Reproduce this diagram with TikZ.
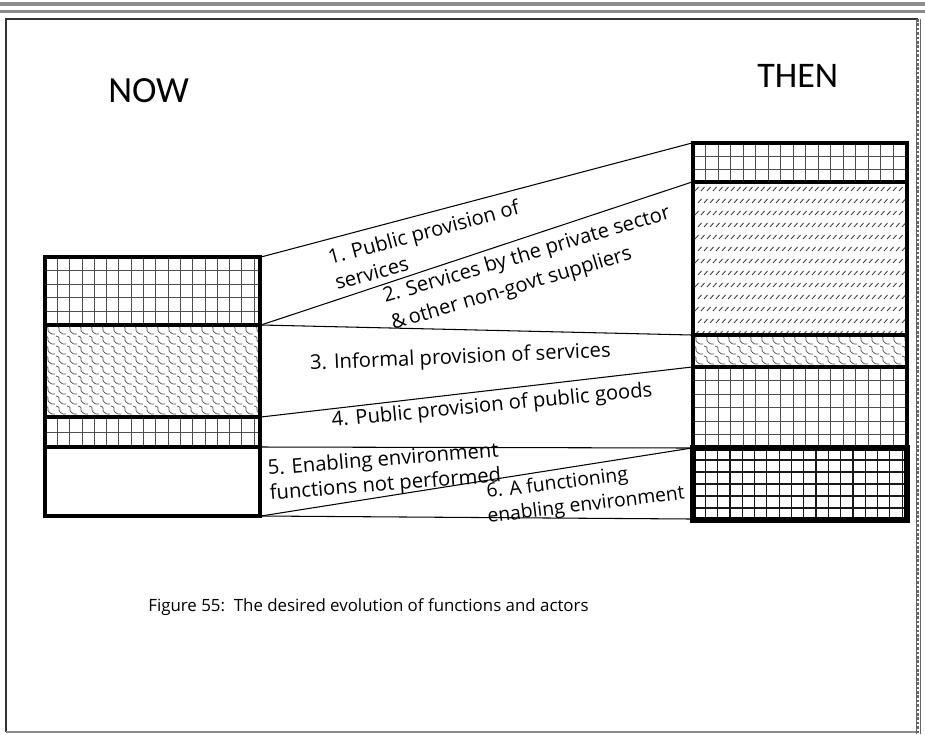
\documentclass[tikz,border=0pt]{standalone}
\usepackage{fontspec}
\setmainfont{Open Sans}
\newfontfamily\calib{Carlito}
\newcommand\gridfill[7]{%
  \begin{scope}
    \clip (#1,#2) rectangle (#3,#4);
    \draw[#7] \foreach \k in {0,...,40} { ({#1+\k*#5},#2) -- ({#1+\k*#5},#4) };
    \draw[#7] \foreach \k in {0,...,20} { (#1,{#2+\k*#6}) -- (#3,{#2+\k*#6}) };
  \end{scope}}
\newcommand\wavefill[4]{%
  \begin{scope}
    \clip (#1,#2) rectangle (#3,#4);
    \draw[wavy] \foreach \i in {0,...,20} { \foreach \j in {0,...,10} {
      ({#1+\i*11},{#2+1+\j*10}) .. controls ({#1+\i*11+6},{#2+2+\j*10}) and ({#1+\i*11+1},{#2+5+\j*10}) .. ({#1+\i*11+4},{#2+7+\j*10})
      .. controls ({#1+\i*11+6},{#2+9+\j*10}) .. ({#1+\i*11+10},{#2+9+\j*10}) } };
  \end{scope}}
\newcommand\slashfill[4]{%
  \begin{scope}
    \clip (#1,#2) rectangle (#3,#4);
    \draw[slashy] \foreach \j in {0,...,13} { \foreach \i in {0,...,38} {
      ({#1+2+\i*6+mod(\j,2)*3},{#2+9+\j*12}) -- ++(3.5,-4) } };
  \end{scope}}
\tikzset{
  lbl/.style={font=\fontsize{11.5}{14}\selectfont, inner sep=0pt, anchor=base west},
  head/.style={font=\calib\fontsize{21}{24}\selectfont, inner sep=0pt, anchor=base west},
  capt/.style={font=\fontsize{9.6}{12}\selectfont, inner sep=0pt, anchor=base west},
  conn/.style={line width=0.6pt},
  blockborder/.style={line width=2.2pt},
  gridln/.style={line width=0.45pt, black!70},
  gridbold/.style={line width=0.7pt, black!90},
  wavy/.style={line width=0.4pt, black!70},
  slashy/.style={line width=0.5pt, black!75},
  frameln/.style={line width=0.8pt, black!80},
}
\begin{document}
\begin{tikzpicture}[x=0.02cm, y=-0.02cm]
\useasboundingbox (0,0) rectangle (925,734);
% outer frame
\draw[line width=2pt, black!45] (0,4) -- (925,4);
\draw[line width=2pt, black!45] (0,11.5) -- (925,11.5);
\draw[frameln] (6,732) -- (6,19) -- (918,19);
\draw[line width=0.8pt, black!45] (6,732) -- (918,732);
\draw[line width=1.6pt, black!60, dash pattern=on 1.5pt off 1pt] (918,19) -- (918,734);
\draw[line width=0.5pt, black!60] (916,19) -- (916,734) (920.5,19) -- (920.5,734);

% headings
\node[head] (now) at (108,102) {NOW};
\node[head, font=\calib\fontsize{20.5}{24}\selectfont] (then) at (757,87) {THEN};

% left stack patterns
\gridfill{45}{257}{260}{325}{12.3}{13.6}{gridln}
\wavefill{45}{325}{260}{417}
\gridfill{45}{417}{260}{447}{12.3}{15}{gridln}
% right stack patterns
\gridfill{693}{143}{907}{182}{12.5}{13}{gridln}
\slashfill{693}{182}{907}{335}
\wavefill{693}{335}{907}{367}
\gridfill{693}{367}{907}{448}{12.5}{13.5}{gridln}
\gridfill{693}{448}{907}{520}{12.3}{12}{gridbold}

% block borders
\draw[blockborder] (45,257) rectangle (260,516);
\draw[blockborder] (45,325) -- (260,325) (45,417) -- (260,417) (45,447) -- (260,447);
\draw[blockborder] (693,143) rectangle (907,520);
\draw[blockborder] (693,182) -- (907,182) (693,335) -- (907,335) (693,367) -- (907,367);
\draw[line width=3pt] (693,448) rectangle (907,520);

% anchor points
\coordinate (L0) at (261,257);
\coordinate (L1) at (261,325);
\coordinate (L2) at (261,417);
\coordinate (L3) at (261,447);
\coordinate (L4) at (261,516);
\coordinate (R0) at (692,143);
\coordinate (R1) at (692,182);
\coordinate (R2) at (692,335);
\coordinate (R3) at (692,367);
\coordinate (R4) at (692,448);
\coordinate (R5) at (692,519);

% connectors
\draw[conn] (L0) -- (R0);
\draw[conn] (L1) -- (R1);
\draw[conn] (L1) -- (R2);
\draw[conn] (L2) -- (R3);
\draw[conn] (L3) -- (R4);
\draw[conn] (L4) -- (R4);
\draw[conn] (L4) -- (R5);

% labels
\node[lbl, rotate=15] (t1a) at (330,265) {1. Public provision of};
\node[lbl, rotate=15] (t1b) at (337,290) {services};
\node[lbl, rotate=16.5] (t2a) at (385,303) {2. Services by the private sector};
\node[lbl, rotate=16.5] (t2b) at (393,330) {\&\,other non-govt suppliers};
\node[lbl, rotate=2.5] (t3) at (310,370) {3. Informal provision of services};
\node[lbl, rotate=5.5] (t4) at (332,427) {4. Public provision of public goods};
\node[lbl, rotate=4.5] (t5a) at (268,475) {5. Enabling environment};
\node[lbl, rotate=4.5] (t5b) at (270,500) {functions not performed};
\node[lbl, rotate=7, font=\fontsize{11}{14}\selectfont] (t6a) at (487,498) {6. A functioning};
\node[lbl, rotate=7, font=\fontsize{11}{14}\selectfont] (t6b) at (488,523) {enabling environment};

% caption
\node[capt] (cap) at (148,611) {Figure 55:\ \ The desired evolution of functions and actors};
\end{tikzpicture}
\end{document}
